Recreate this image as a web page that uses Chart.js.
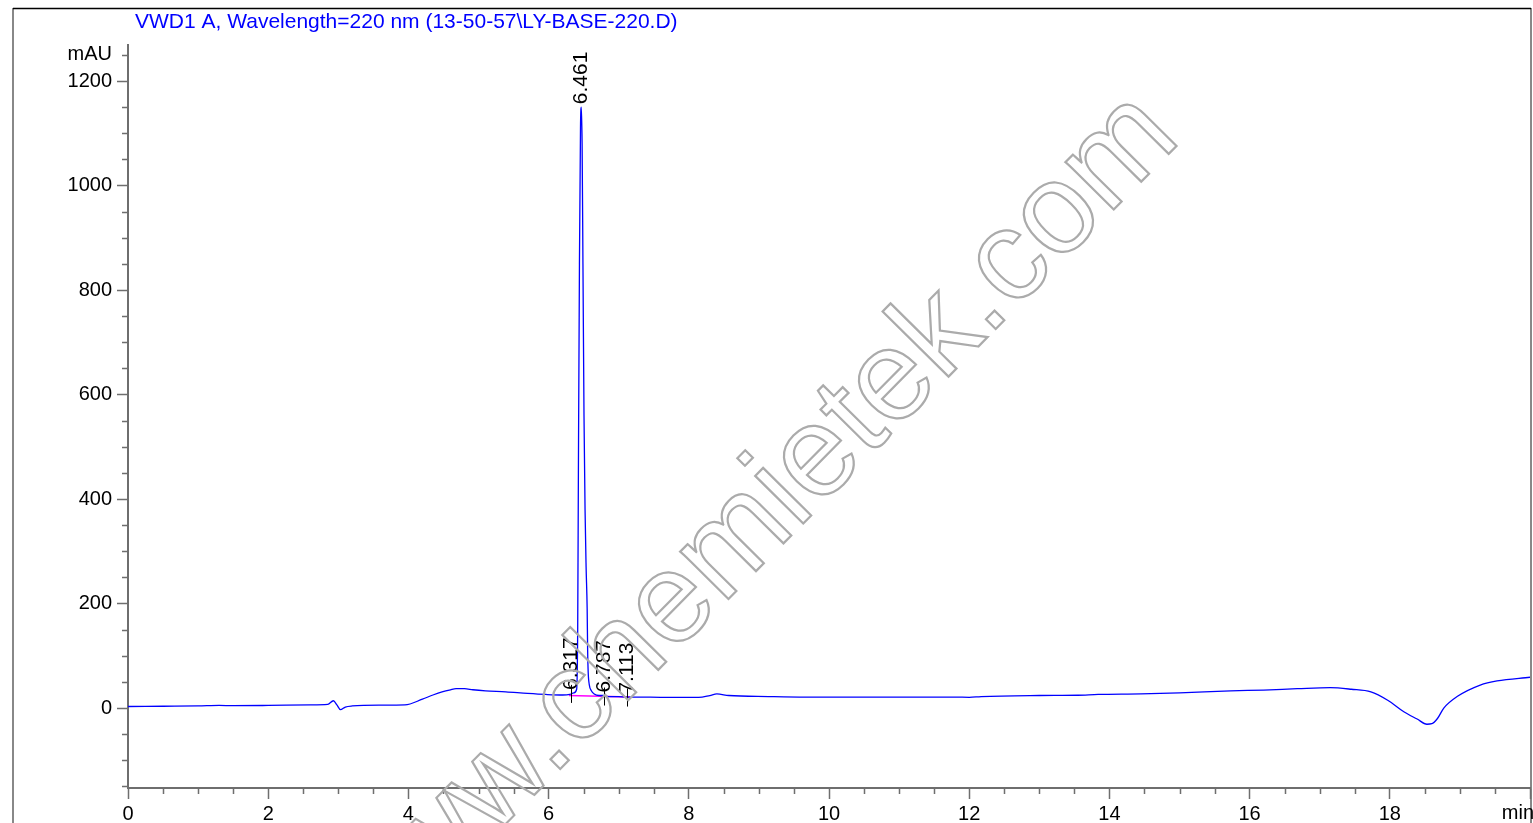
<!DOCTYPE html>
<html>
<head>
<meta charset="utf-8">
<script src="https://cdn.jsdelivr.net/npm/chart.js@4.4.1/dist/chart.umd.min.js"></script>
<style>
html,body{margin:0;padding:0;background:#fff;overflow:hidden;}
#c{display:block;}
</style>
</head>
<body>
<canvas id="c" width="1533" height="823"></canvas>
<script>
// ---- data ----
const titleText = "VWD1 A, Wavelength=220 nm (13-50-57\\LY-BASE-220.D)";
const times = [0, 0.5, 1.0, 1.3, 1.5, 2.0, 2.6, 2.85, 2.93, 2.98, 3.03, 3.1, 3.2, 3.6, 3.95, 4.2, 4.35, 4.48, 4.6, 4.68, 4.8, 4.92, 5.1, 5.39, 5.7, 5.96, 6.2, 6.30, 6.36, 6.40, 6.415, 6.425, 6.44, 6.455, 6.466, 6.478, 6.49, 6.505, 6.52, 6.535, 6.55, 6.557, 6.565, 6.58, 6.61, 6.65, 6.72, 6.79, 6.85, 7.0, 7.11, 7.3, 7.6, 8.0, 8.14, 8.3, 8.4, 8.57, 9.14, 9.66, 10.5, 11.8, 12.0, 12.17, 13.0, 13.55, 13.84, 14.45, 15.0, 15.73, 16.2, 16.68, 17.15, 17.45, 17.73, 17.97, 18.2, 18.39, 18.53, 18.6, 18.68, 18.77, 18.96, 19.29, 19.53, 20.0];
const signal = [3, 3.5, 4, 5, 4.5, 5, 6, 7, 14, 6, -3, 2, 4, 5.5, 6, 17, 25, 31, 35, 37, 37, 35, 33, 31, 28, 26, 25, 26, 29, 36, 150, 450, 850, 1110, 1150, 1080, 850, 560, 380, 270, 190, 110, 68, 45, 33, 27, 24, 24, 22, 22, 21, 21, 20.5, 20.5, 20.5, 24, 27, 24, 22, 21, 21, 21, 20.5, 22, 24, 24.5, 26, 27, 29, 33, 34.5, 37, 39, 36, 31, 15, -7, -21, -31, -30, -20, 0, 22, 44, 52, 59];
const baselineTimes = [6.29, 7.16];
const baselineValues = [24, 21];
const peakTimes = [6.317, 6.461, 6.787, 7.113];
const peakLabels = ["6.317", "6.461", "6.787", "7.113"];
const peakApex = [29, 1150, 24, 22];
const xTicks = [];
for (let i = 0; i <= 40; i++) xTicks.push(i * 0.5);
const yTicks = [];
for (let v = -150; v <= 1250; v += 50) yTicks.push(v);
const xMajor = [0, 2, 4, 6, 8, 10, 12, 14, 16, 18, 20];
const yMajor = [0, 200, 400, 600, 800, 1000, 1200];
const xUnit = "min";
const yUnit = "mAU";
const watermark = "www.chemietek.com";

const FONT = '"Liberation Sans", Arial, sans-serif';
const AXIS = '#6e6e6e';

const traceData = times.map((t, i) => ({x: t, y: signal[i]}));
const baseData = baselineTimes.map((t, i) => ({x: t, y: baselineValues[i]}));

const decor = {
  id: 'decor',
  beforeDraw(chart) {
    const ctx = chart.ctx;
    ctx.save();
    ctx.fillStyle = '#fff';
    ctx.fillRect(0, 0, chart.width, chart.height);
    // frame
    ctx.strokeStyle = '#888';
    ctx.lineWidth = 2;
    ctx.beginPath();
    ctx.moveTo(13, 8); ctx.lineTo(13, chart.height);
    ctx.moveTo(1531, 8); ctx.lineTo(1531, chart.height);
    ctx.stroke();
    ctx.strokeStyle = '#000';
    ctx.lineWidth = 1.5;
    ctx.beginPath();
    ctx.moveTo(13, 8.5); ctx.lineTo(1531, 8.5);
    ctx.stroke();
    // title
    ctx.fillStyle = '#0000ff';
    ctx.font = '21px ' + FONT;
    ctx.textAlign = 'left';
    ctx.textBaseline = 'alphabetic';
    ctx.fillText(titleText, 135, 28);
    ctx.restore();
  },
  afterDraw(chart) {
    const ctx = chart.ctx;
    const xs = chart.scales.x, ys = chart.scales.y;
    ctx.save();
    // minor ticks
    ctx.strokeStyle = AXIS;
    ctx.lineWidth = 1.5;
    ctx.beginPath();
    xTicks.forEach(v => {
      if (xMajor.includes(v)) return;
      const px = Math.round(xs.getPixelForValue(v)) + 0.5;
      ctx.moveTo(px, xs.top); ctx.lineTo(px, xs.top + 6);
    });
    yTicks.forEach(v => {
      if (yMajor.includes(v)) return;
      const py = Math.round(ys.getPixelForValue(v)) + 0.5;
      ctx.moveTo(ys.right - 6, py); ctx.lineTo(ys.right, py);
    });
    ctx.stroke();
    // x unit label
    ctx.fillStyle = '#000';
    ctx.font = '20px ' + FONT;
    ctx.textAlign = 'right';
    ctx.textBaseline = 'top';
    ctx.fillText(xUnit, xs.right + 4, xs.top + 15);
    // peak markers and labels
    ctx.strokeStyle = '#000';
    ctx.lineWidth = 1;
    peakTimes.forEach((t, i) => {
      const px = Math.round(xs.getPixelForValue(t)) + 0.5;
      const py = ys.getPixelForValue(peakApex[i]);
      if (i !== 1) {
        ctx.beginPath();
        ctx.moveTo(px, py - 8); ctx.lineTo(px, py + 10);
        ctx.stroke();
      }
      ctx.save();
      ctx.translate(px, py - 3);
      ctx.rotate(-Math.PI / 2);
      ctx.fillStyle = '#000';
      ctx.font = '21px ' + FONT;
      ctx.textAlign = 'left';
      ctx.textBaseline = 'middle';
      ctx.fillText(peakLabels[i], 0, 0);
      ctx.restore();
    });
    // watermark
    ctx.save();
    ctx.translate(566, 756);
    ctx.rotate(-45.3 * Math.PI / 180);
    ctx.font = '128px ' + FONT;
    ctx.textAlign = 'left';
    ctx.textBaseline = 'alphabetic';
    const pre = ctx.measureText('www').width + ctx.measureText('.').width / 2;
    ctx.strokeStyle = '#ababab';
    ctx.lineWidth = 2.2;
    ctx.strokeText(watermark, -pre, 5);
    ctx.restore();
    ctx.restore();
  }
};

new Chart(document.getElementById('c'), {
  type: 'line',
  data: {
    datasets: [
      {data: traceData, borderColor: '#0000ff', borderWidth: 1.3, pointRadius: 0, cubicInterpolationMode: 'monotone', fill: false},
      {data: baseData, borderColor: '#ff00ff', borderWidth: 1.5, pointRadius: 0, fill: false}
    ]
  },
  options: {
    responsive: false,
    animation: false,
    events: [],
    layout: {padding: {left: 0, right: 0, top: 45, bottom: 0}},
    plugins: {legend: {display: false}, tooltip: {enabled: false}, title: {display: false}},
    scales: {
      x: {
        type: 'linear', min: 0, max: 20,
        afterBuildTicks: s => { s.ticks = xTicks.map(v => ({value: v})); },
        afterFit: s => { s.height = 35; },
        ticks: {
          autoSkip: false, maxRotation: 0, padding: 3, color: '#000',
          font: {family: FONT, size: 20},
          callback: v => (xMajor.includes(v) && v !== 20) ? String(v) : ''
        },
        grid: {
          drawOnChartArea: false, drawTicks: true, tickLength: 11, tickWidth: 1.5,
          tickColor: c => (c.tick && xMajor.includes(c.tick.value)) ? AXIS : 'rgba(0,0,0,0)'
        },
        border: {color: AXIS, width: 2}
      },
      y: {
        type: 'linear', min: -153, max: 1269,
        afterBuildTicks: s => { s.ticks = yTicks.map(v => ({value: v})); },
        afterFit: s => { s.width = 128; },
        ticks: {
          autoSkip: false, padding: 5, color: '#000',
          font: {family: FONT, size: 20},
          callback: v => yMajor.includes(v) ? String(v) : (v === 1250 ? yUnit : '')
        },
        grid: {
          drawOnChartArea: false, drawTicks: true, tickLength: 11, tickWidth: 1.5,
          tickColor: c => (c.tick && yMajor.includes(c.tick.value)) ? AXIS : 'rgba(0,0,0,0)'
        },
        border: {color: AXIS, width: 2}
      }
    }
  },
  plugins: [decor]
});
</script>
</body>
</html>
